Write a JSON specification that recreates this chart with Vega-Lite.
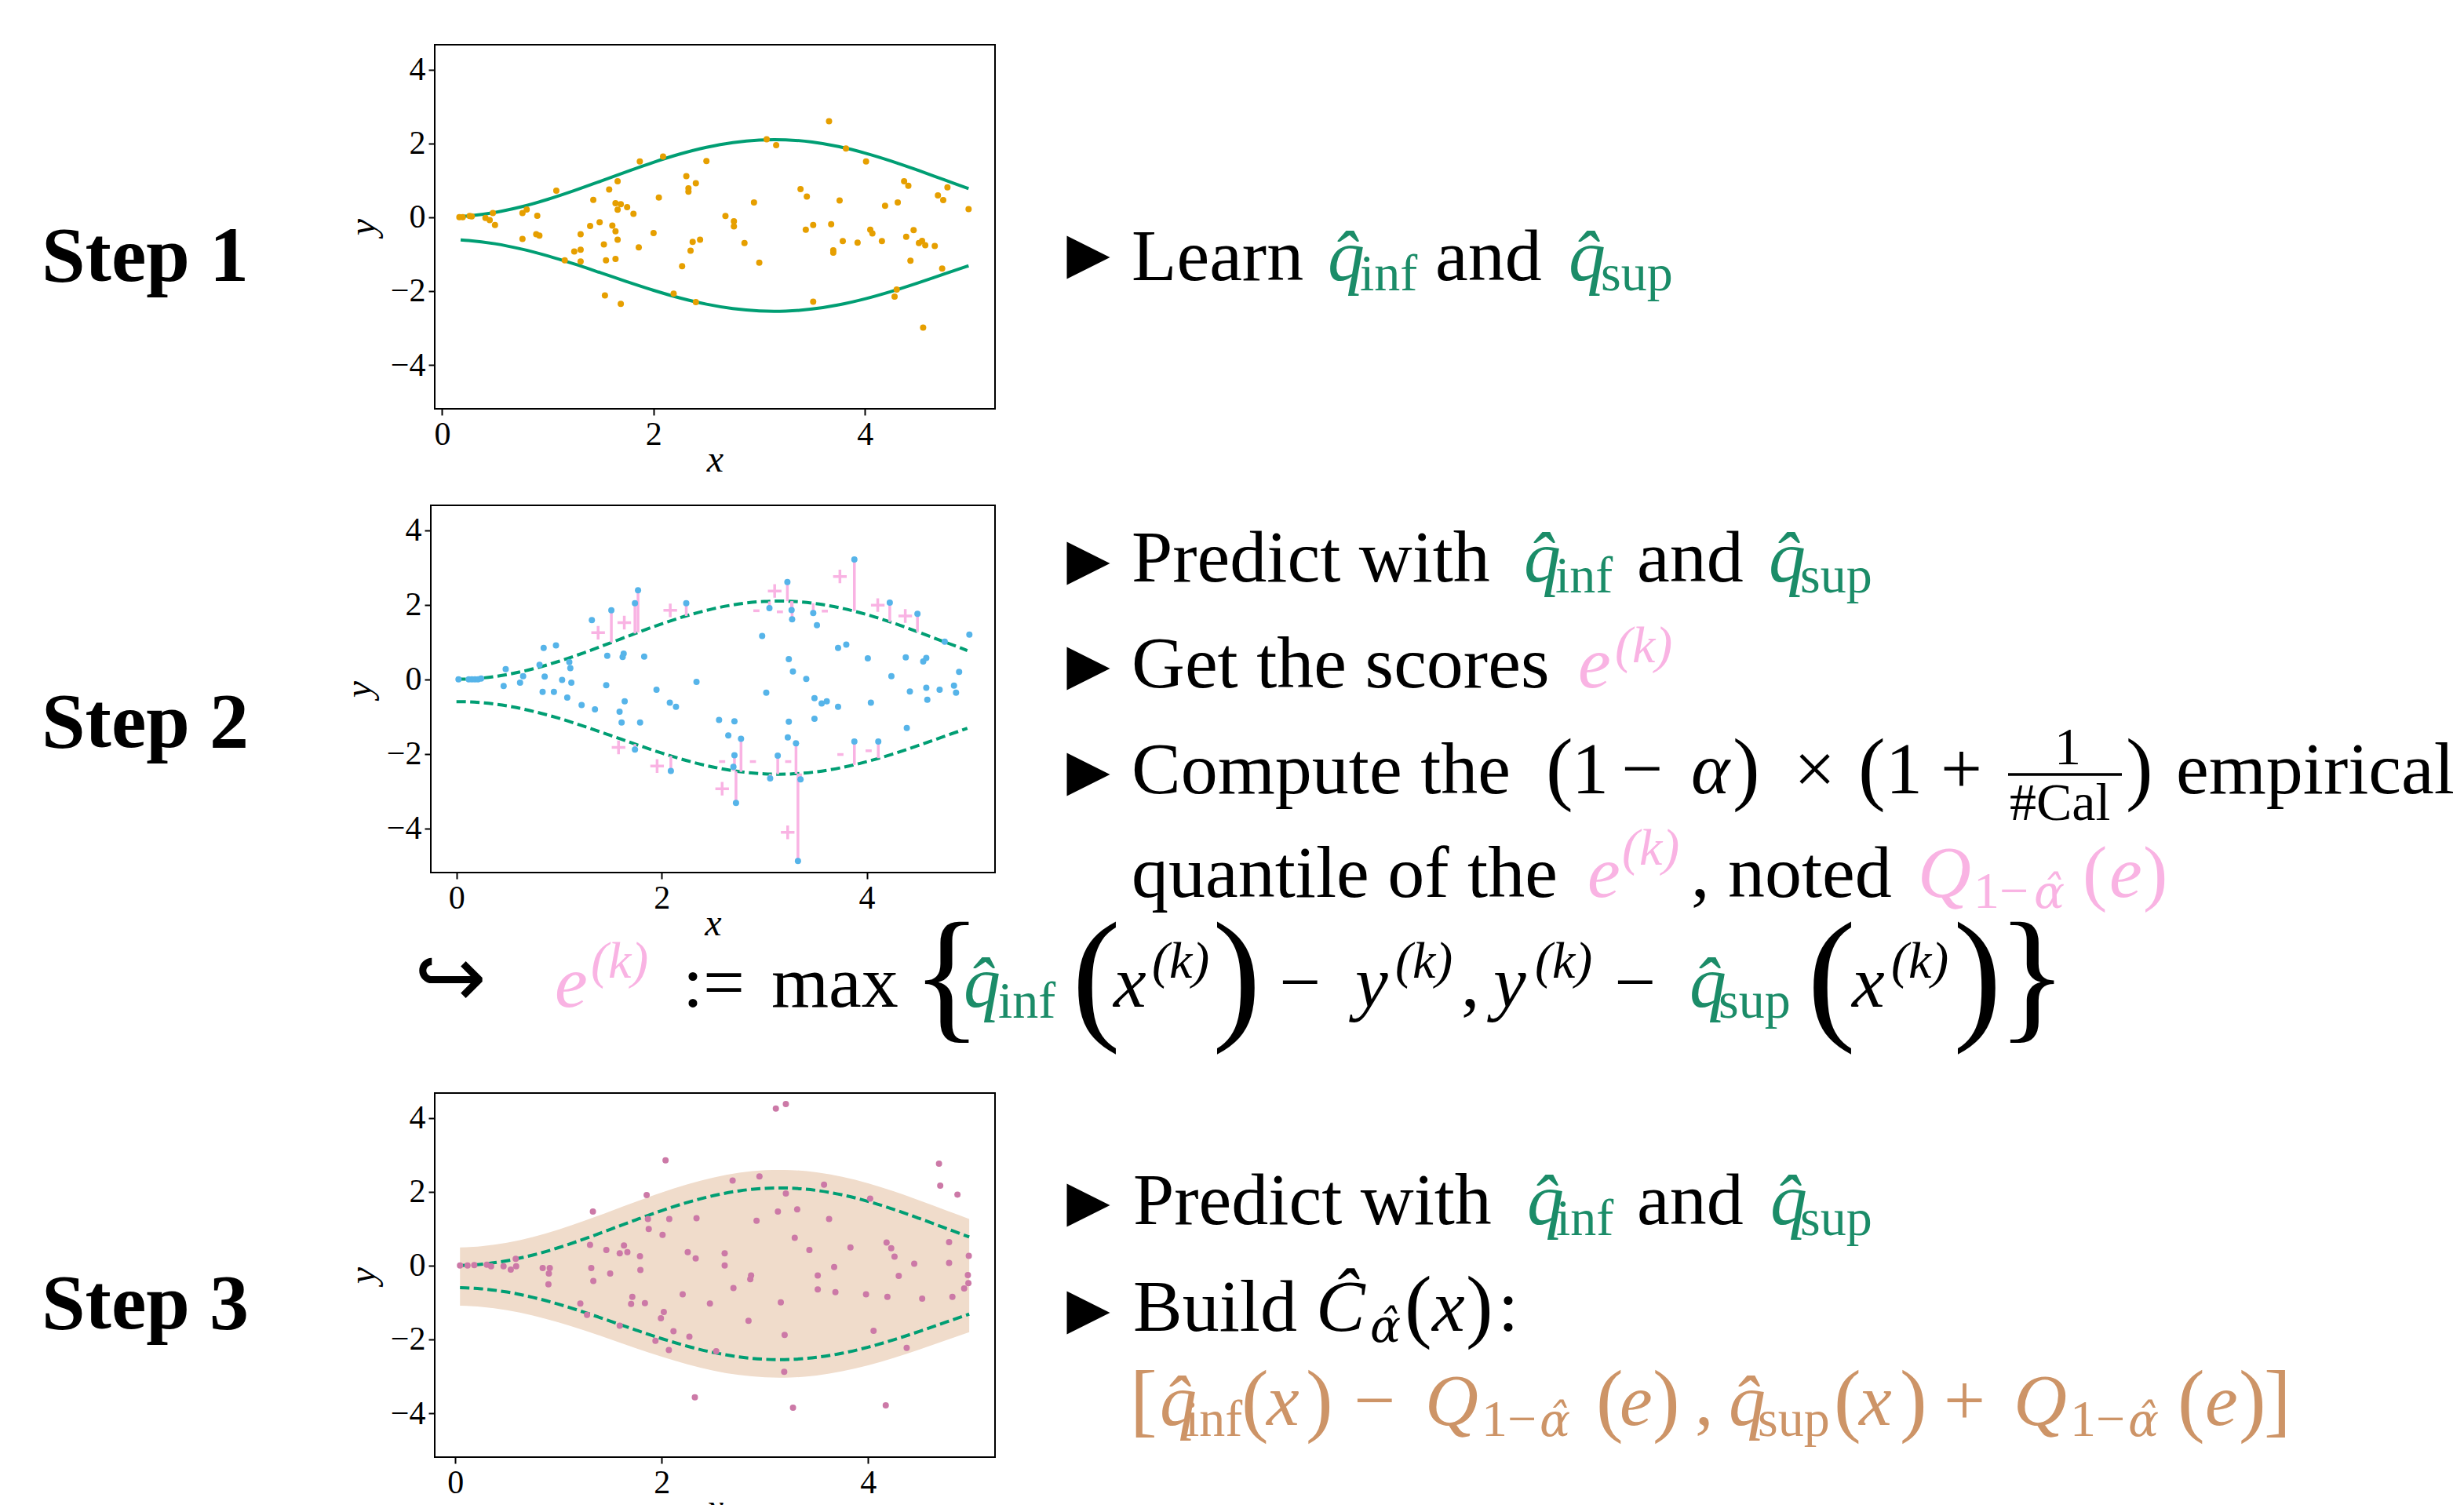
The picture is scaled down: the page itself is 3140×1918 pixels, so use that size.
{
"$schema": "https://vega.github.io/schema/vega-lite/v6.json",
"padding": {"left": 0, "top": 56, "right": 0, "bottom": 0},
"background": "white",
"bounds": "full",
"spacing": 0,
"config": {
  "view": {"stroke": null},
  "concat": {"spacing": 0},
  "axis": {"labelFont": "Liberation Serif", "labelFontSize": 42, "labelColor": "#000000", "tickColor": "#000000", "tickWidth": 2, "tickSize": 8, "labelPadding": 4, "domain": false, "grid": false, "titleFont": "Liberation Serif", "titleFontSize": 48, "titleFontStyle": "italic", "titleFontWeight": "normal", "titleColor": "#000000"},
  "axisX": {"titlePadding": -12},
  "axisY": {"titlePadding": 10}
},
"datasets": {
  "curve": [
    {"x": 0, "upper": 0, "lower": -0.6, "hi": 0.49, "lo": -1.09},
    {"x": 0.045, "upper": 0.001, "lower": -0.601, "hi": 0.491, "lo": -1.091},
    {"x": 0.175, "upper": 0.016, "lower": -0.615, "hi": 0.506, "lo": -1.105},
    {"x": 0.25, "upper": 0.033, "lower": -0.63, "hi": 0.523, "lo": -1.12},
    {"x": 0.5, "upper": 0.129, "lower": -0.719, "hi": 0.619, "lo": -1.209},
    {"x": 0.75, "upper": 0.282, "lower": -0.862, "hi": 0.772, "lo": -1.352},
    {"x": 1.0, "upper": 0.483, "lower": -1.048, "hi": 0.973, "lo": -1.538},
    {"x": 1.25, "upper": 0.719, "lower": -1.268, "hi": 1.209, "lo": -1.758},
    {"x": 1.5, "upper": 0.976, "lower": -1.506, "hi": 1.466, "lo": -1.996},
    {"x": 1.75, "upper": 1.237, "lower": -1.749, "hi": 1.727, "lo": -2.239},
    {"x": 2.0, "upper": 1.487, "lower": -1.981, "hi": 1.977, "lo": -2.471},
    {"x": 2.25, "upper": 1.71, "lower": -2.188, "hi": 2.2, "lo": -2.678},
    {"x": 2.5, "upper": 1.891, "lower": -2.356, "hi": 2.381, "lo": -2.846},
    {"x": 2.75, "upper": 2.021, "lower": -2.476, "hi": 2.511, "lo": -2.966},
    {"x": 3.0, "upper": 2.09, "lower": -2.54, "hi": 2.58, "lo": -3.03},
    {"x": 3.14, "upper": 2.1, "lower": -2.55, "hi": 2.59, "lo": -3.04},
    {"x": 3.25, "upper": 2.094, "lower": -2.544, "hi": 2.584, "lo": -3.034},
    {"x": 3.5, "upper": 2.033, "lower": -2.488, "hi": 2.523, "lo": -2.978},
    {"x": 3.75, "upper": 1.912, "lower": -2.375, "hi": 2.402, "lo": -2.865},
    {"x": 4.0, "upper": 1.736, "lower": -2.212, "hi": 2.226, "lo": -2.702},
    {"x": 4.25, "upper": 1.518, "lower": -2.01, "hi": 2.008, "lo": -2.5},
    {"x": 4.5, "upper": 1.271, "lower": -1.781, "hi": 1.761, "lo": -2.271},
    {"x": 4.75, "upper": 1.011, "lower": -1.538, "hi": 1.501, "lo": -2.028},
    {"x": 4.98, "upper": 0.772, "lower": -1.317, "hi": 1.262, "lo": -1.807},
    {"x": 5.0, "upper": 0.752, "lower": -1.299, "hi": 1.242, "lo": -1.789}
  ],
  "train": [
    {"x":0.163,"y":0},{"x":0.195,"y":0},{"x":0.26,"y":0.03},{"x":0.28,"y":0.02},{"x":0.41,"y":-0.02},{"x":0.45,"y":-0.08},{"x":0.48,"y":0.11},{"x":0.5,"y":-0.21},{"x":0.76,"y":0.11},{"x":0.8,"y":0.21},
    {"x":0.76,"y":-0.59},{"x":0.89,"y":-0.46},{"x":0.92,"y":-0.5},{"x":0.9,"y":0.04},{"x":1.08,"y":0.72},{"x":1.16,"y":-1.17},{"x":1.25,"y":-0.93},{"x":1.31,"y":-0.46},{"x":1.31,"y":-0.88},{"x":1.31,"y":-1.2},
    {"x":1.4,"y":-0.24},{"x":1.43,"y":0.47},{"x":1.49,"y":-0.14},{"x":1.53,"y":-0.74},{"x":1.54,"y":-2.12},{"x":1.55,"y":-1.17},{"x":1.58,"y":0.75},{"x":1.61,"y":-0.23},{"x":1.64,"y":-1.13},{"x":1.64,"y":-0.38},
    {"x":1.64,"y":0.38},{"x":1.66,"y":0.97},{"x":1.66,"y":-0.61},{"x":1.66,"y":0.2},{"x":1.69,"y":0.35},{"x":1.69,"y":-2.35},{"x":1.75,"y":0.27},{"x":1.81,"y":0.09},{"x":1.86,"y":-0.82},{"x":1.87,"y":1.51},
    {"x":2.0,"y":-0.43},{"x":2.05,"y":0.53},{"x":2.09,"y":1.64},{"x":2.19,"y":-2.07},{"x":2.27,"y":-1.33},{"x":2.31,"y":1.11},{"x":2.33,"y":0.78},{"x":2.33,"y":0.69},{"x":2.35,"y":-0.91},{"x":2.37,"y":-0.67},
    {"x":2.4,"y":0.92},{"x":2.4,"y":-2.3},{"x":2.44,"y":-0.61},{"x":2.5,"y":1.52},{"x":2.68,"y":0.03},{"x":2.76,"y":-0.11},{"x":2.76,"y":-0.25},{"x":2.86,"y":-0.7},{"x":2.95,"y":0.4},{"x":3.0,"y":-1.23},
    {"x":3.07,"y":2.11},{"x":3.16,"y":1.95},{"x":3.39,"y":0.76},{"x":3.44,"y":-0.34},{"x":3.45,"y":0.56},{"x":3.51,"y":-0.21},{"x":3.51,"y":-2.29},{"x":3.66,"y":2.6},{"x":3.68,"y":-0.19},{"x":3.7,"y":-0.9},
    {"x":3.7,"y":-0.96},{"x":3.76,"y":0.45},{"x":3.79,"y":-0.65},{"x":3.82,"y":1.86},{"x":3.93,"y":-0.69},{"x":4.01,"y":1.51},{"x":4.05,"y":-0.34},{"x":4.07,"y":-0.44},{"x":4.16,"y":-0.65},{"x":4.19,"y":0.31},
    {"x":4.28,"y":-2.15},{"x":4.3,"y":-1.96},{"x":4.31,"y":0.4},{"x":4.37,"y":0.97},{"x":4.39,"y":-0.53},{"x":4.41,"y":0.85},{"x":4.43,"y":-1.18},{"x":4.46,"y":-0.35},{"x":4.51,"y":-0.7},{"x":4.54,"y":-0.64},
    {"x":4.55,"y":-2.99},{"x":4.57,"y":-0.76},{"x":4.66,"y":-0.78},{"x":4.69,"y":0.59},{"x":4.73,"y":-1.39},{"x":4.74,"y":0.46},{"x":4.78,"y":0.81},{"x":4.98,"y":0.22}
  ],
  "calib": [
    {"x":0.02,"y":0},{"x":0.12,"y":0},{"x":0.15,"y":0},{"x":0.18,"y":0},{"x":0.21,"y":0},{"x":0.24,"y":0.02},{"x":0.46,"y":-0.18},{"x":0.48,"y":0.27},{"x":0.62,"y":-0.09},{"x":0.65,"y":0.08},
    {"x":0.81,"y":0.39},{"x":0.84,"y":-0.34},{"x":0.85,"y":0.84},{"x":0.86,"y":0.07},{"x":0.95,"y":-0.34},{"x":0.97,"y":0.91},{"x":1.03,"y":-0.02},{"x":1.08,"y":-0.49},{"x":1.1,"y":0.46},{"x":1.11,"y":0.3},
    {"x":1.12,"y":-0.09},{"x":1.22,"y":-0.69},{"x":1.32,"y":1.59},{"x":1.35,"y":-0.81},{"x":1.46,"y":-0.16},{"x":1.47,"y":0.63},{"x":1.51,"y":1.85},{"x":1.59,"y":-0.87},{"x":1.61,"y":-1.16},{"x":1.62,"y":0.6},
    {"x":1.63,"y":0.69},{"x":1.64,"y":-0.59},{"x":1.74,"y":2.04},{"x":1.74,"y":-1.89},{"x":1.77,"y":2.39},{"x":1.79,"y":-1.16},{"x":1.83,"y":0.61},{"x":1.95,"y":-0.28},{"x":2.08,"y":-0.63},{"x":2.09,"y":-2.46},
    {"x":2.14,"y":-0.74},{"x":2.24,"y":2.04},{"x":2.34,"y":-0.07},{"x":2.56,"y":-1.09},{"x":2.65,"y":-1.51},{"x":2.7,"y":-2.35},{"x":2.71,"y":-2.04},{"x":2.71,"y":-1.13},{"x":2.725,"y":-3.32},{"x":2.774,"y":-1.6},
    {"x":2.98,"y":1.16},{"x":3.02,"y":-0.36},{"x":3.051,"y":1.91},{"x":3.058,"y":-2.66},{"x":3.132,"y":-2.05},{"x":3.226,"y":2.61},{"x":3.23,"y":-1.56},{"x":3.24,"y":0.54},{"x":3.24,"y":-1.14},{"x":3.267,"y":1.86},
    {"x":3.272,"y":1.61},{"x":3.28,"y":0.21},{"x":3.31,"y":-1.72},{"x":3.329,"y":-4.88},{"x":3.354,"y":-2.69},{"x":3.41,"y":0.01},{"x":3.478,"y":1.78},{"x":3.49,"y":-1.06},{"x":3.49,"y":-0.51},{"x":3.514,"y":1.45},
    {"x":3.56,"y":-0.65},{"x":3.61,"y":-0.59},{"x":3.72,"y":0.84},{"x":3.72,"y":-0.74},{"x":3.8,"y":0.93},{"x":3.879,"y":3.216},{"x":3.879,"y":-1.67},{"x":4.01,"y":0.56},{"x":4.04,"y":-0.63},{"x":4.112,"y":-1.67},
    {"x":4.224,"y":2.06},{"x":4.24,"y":0.08},{"x":4.38,"y":0.59},{"x":4.39,"y":-1.31},{"x":4.42,"y":-0.33},{"x":4.494,"y":1.755},{"x":4.55,"y":0.48},{"x":4.58,"y":0.57},{"x":4.58,"y":-0.23},{"x":4.59,"y":-0.55},
    {"x":4.71,"y":-0.28},{"x":4.76,"y":1.01},{"x":4.85,"y":-0.17},{"x":4.87,"y":-0.36},{"x":4.9,"y":0.2},{"x":5.0,"y":1.2}
  ],
  "scores": [
    {"x":1.51,"y":1.85,"y2":0.99},{"x":1.74,"y":2.04,"y2":1.23},{"x":1.77,"y":2.39,"y2":1.26},{"x":2.24,"y":2.04,"y2":1.7},{"x":1.74,"y":-1.89,"y2":-1.74},
    {"x":2.09,"y":-2.46,"y2":-2.06},{"x":2.71,"y":-2.04,"y2":-2.46},{"x":2.7,"y":-2.35,"y2":-2.46},{"x":2.725,"y":-3.32,"y2":-2.47},{"x":2.774,"y":-1.6,"y2":-2.485},
    {"x":3.058,"y":-2.66,"y2":-2.546},{"x":3.132,"y":-2.05,"y2":-2.55},{"x":3.31,"y":-1.72,"y2":-2.536},{"x":3.329,"y":-4.88,"y2":-2.533},{"x":3.354,"y":-2.69,"y2":-2.53},
    {"x":3.879,"y":3.216,"y2":1.83},{"x":3.226,"y":2.61,"y2":2.095},{"x":3.051,"y":1.91,"y2":2.09},{"x":3.267,"y":1.86,"y2":2.094},{"x":3.272,"y":1.61,"y2":2.094},
    {"x":3.478,"y":1.78,"y2":2.042},{"x":4.224,"y":2.06,"y2":1.54},{"x":4.494,"y":1.755,"y2":1.27},{"x":3.879,"y":-1.67,"y2":-2.3},{"x":4.112,"y":-1.67,"y2":-2.12}
  ],
  "signs": [
    {"x":1.381,"y":1.25,"sign":"+"},{"x":1.636,"y":1.52,"sign":"+"},{"x":2.084,"y":1.85,"sign":"+"},{"x":1.58,"y":-1.83,"sign":"+"},{"x":1.956,"y":-2.33,"sign":"+"},
    {"x":2.59,"y":-2.21,"sign":"-"},{"x":2.59,"y":-2.94,"sign":"+"},{"x":2.89,"y":-2.21,"sign":"-"},{"x":3.234,"y":-2.21,"sign":"-"},{"x":3.229,"y":-4.11,"sign":"+"},
    {"x":3.738,"y":2.76,"sign":"+"},{"x":3.102,"y":2.37,"sign":"+"},{"x":2.924,"y":1.84,"sign":"-"},{"x":3.153,"y":1.81,"sign":"-"},{"x":3.591,"y":1.83,"sign":"-"},
    {"x":4.107,"y":1.99,"sign":"+"},{"x":4.375,"y":1.7,"sign":"+"},{"x":3.743,"y":-2.02,"sign":"-"},{"x":4.018,"y":-1.92,"sign":"-"}
  ],
  "test": [
    {"x":0.045,"y":0},{"x":0.118,"y":0},{"x":0.183,"y":0.01},{"x":0.305,"y":0.02},{"x":0.346,"y":-0.02},{"x":0.467,"y":-0.02},{"x":0.537,"y":-0.11},{"x":0.585,"y":0.18},{"x":0.589,"y":-0.02},{"x":0.846,"y":-0.07},
    {"x":0.915,"y":-0.07},{"x":0.906,"y":-0.22},{"x":0.902,"y":-0.51},{"x":1.211,"y":-1.03},{"x":1.276,"y":-1.34},{"x":1.305,"y":0.56},{"x":1.317,"y":-0.07},{"x":1.333,"y":1.46},{"x":1.337,"y":-0.42},{"x":1.463,"y":0.42},
    {"x":1.5,"y":-0.22},{"x":1.593,"y":0.33},{"x":1.593,"y":-1.63},{"x":1.634,"y":0.54},{"x":1.667,"y":0.36},{"x":1.703,"y":-1.04},{"x":1.715,"y":-0.85},{"x":1.789,"y":0.25},{"x":1.793,"y":-0.12},{"x":1.837,"y":-1.02},
    {"x":1.854,"y":1.91},{"x":1.866,"y":1.26},{"x":1.874,"y":0.99},{"x":1.939,"y":-2.04},{"x":1.992,"y":-1.43},{"x":2.008,"y":0.83},{"x":2.02,"y":-1.26},{"x":2.037,"y":2.85},{"x":2.069,"y":-2.29},{"x":2.073,"y":1.26},
    {"x":2.114,"y":-1.78},{"x":2.203,"y":-0.78},{"x":2.252,"y":0.36},{"x":2.268,"y":-1.93},{"x":2.321,"y":-3.57},{"x":2.329,"y":0.19},{"x":2.337,"y":1.28},{"x":2.467,"y":-1.03},{"x":2.528,"y":-2.32},{"x":2.61,"y":0.33},
    {"x":2.61,"y":0},{"x":2.687,"y":2.3},{"x":2.695,"y":-0.61},{"x":2.841,"y":-1.5},{"x":2.858,"y":-0.37},{"x":2.866,"y":-0.27},{"x":2.919,"y":1.21},{"x":2.947,"y":2.41},{"x":3.106,"y":4.25},{"x":3.126,"y":1.46},
    {"x":3.154,"y":-1.0},{"x":3.187,"y":-2.88},{"x":3.191,"y":-1.88},{"x":3.203,"y":4.37},{"x":3.203,"y":1.95},{"x":3.272,"y":-3.85},{"x":3.289,"y":0.75},{"x":3.313,"y":1.52},{"x":3.431,"y":0.42},{"x":3.512,"y":-0.27},
    {"x":3.512,"y":-0.65},{"x":3.573,"y":2.19},{"x":3.622,"y":1.26},{"x":3.671,"y":-0.04},{"x":3.683,"y":-0.72},{"x":3.829,"y":0.49},{"x":3.98,"y":-0.78},{"x":4.02,"y":1.81},{"x":4.053,"y":-1.77},{"x":4.171,"y":-3.79},
    {"x":4.179,"y":0.62},{"x":4.187,"y":-0.85},{"x":4.224,"y":0.47},{"x":4.256,"y":0.24},{"x":4.297,"y":-0.28},{"x":4.374,"y":-2.23},{"x":4.447,"y":0.05},{"x":4.524,"y":-0.9},{"x":4.687,"y":2.76},{"x":4.699,"y":2.16},
    {"x":4.785,"y":0.63},{"x":4.785,"y":0.07},{"x":4.817,"y":-0.85},{"x":4.866,"y":1.92},{"x":4.931,"y":-0.62},{"x":4.967,"y":-0.26},{"x":4.972,"y":-0.48},{"x":4.976,"y":0.26}
  ],
  "notes": [
    {"panel":"L1","kind":"step","t":"Step 1","x":53,"y":357,"ink":"text"},
    {"panel":"L2","kind":"step","t":"Step 2","x":53,"y":950,"ink":"text"},
    {"panel":"L3","kind":"step","t":"Step 3","x":53,"y":1690,"ink":"text"},

    {"panel":"T1","kind":"bullet","x":1387,"y":327},
    {"panel":"T1","kind":"main","t":"Learn","x":1442,"y":356,"ink":"text"},
    {"panel":"T1","kind":"var","t":"q\u0302","x":1692,"y":356,"ink":"quantile"},
    {"panel":"T1","kind":"index","t":"inf","x":1733,"y":369,"ink":"quantile"},
    {"panel":"T1","kind":"main","t":"and","x":1829,"y":356,"ink":"text"},
    {"panel":"T1","kind":"var","t":"q\u0302","x":1999,"y":356,"ink":"quantile"},
    {"panel":"T1","kind":"index","t":"sup","x":2040,"y":369,"ink":"quantile"},

    {"panel":"T2","kind":"bullet","x":1387,"y":716},
    {"panel":"T2","kind":"bullet","x":1387,"y":850},
    {"panel":"T2","kind":"bullet","x":1387,"y":985},
    {"panel":"T2","kind":"main","t":"Predict with","x":1442,"y":739,"ink":"text"},
    {"panel":"T2","kind":"var","t":"q\u0302","x":1942,"y":739,"ink":"quantile"},
    {"panel":"T2","kind":"index","t":"inf","x":1982,"y":753,"ink":"quantile"},
    {"panel":"T2","kind":"main","t":"and","x":2086,"y":739,"ink":"text"},
    {"panel":"T2","kind":"var","t":"q\u0302","x":2254,"y":739,"ink":"quantile"},
    {"panel":"T2","kind":"index","t":"sup","x":2294,"y":753,"ink":"quantile"},
    {"panel":"T2","kind":"main","t":"Get the scores","x":1442,"y":874,"ink":"text"},
    {"panel":"T2","kind":"var","t":"e","x":2011,"y":874,"ink":"score"},
    {"panel":"T2","kind":"indexvar","t":"(k)","x":2058,"y":842,"ink":"score"},
    {"panel":"T2","kind":"main","t":"Compute the","x":1442,"y":1009,"ink":"text"},
    {"panel":"T2","kind":"delim","t":"(","x":1970,"y":1011,"ink":"text"},
    {"panel":"T2","kind":"main","t":"1","x":2003,"y":1009,"ink":"text"},
    {"panel":"T2","kind":"main","t":"\u2212","x":2066,"y":1009,"ink":"text"},
    {"panel":"T2","kind":"var","t":"\u03b1","x":2155,"y":1009,"ink":"text"},
    {"panel":"T2","kind":"delim","t":")","x":2208,"y":1011,"ink":"text"},
    {"panel":"T2","kind":"main","t":"\u00d7","x":2286,"y":1009,"ink":"text"},
    {"panel":"T2","kind":"delim","t":"(","x":2368,"y":1011,"ink":"text"},
    {"panel":"T2","kind":"main","t":"1","x":2403,"y":1009,"ink":"text"},
    {"panel":"T2","kind":"main","t":"+","x":2473,"y":1009,"ink":"text"},
    {"panel":"T2","kind":"frac","t":"1","x":2618,"y":972,"ink":"text"},
    {"panel":"T2","kind":"frac","t":"#Cal","x":2561,"y":1043,"ink":"text"},
    {"panel":"T2","kind":"bar","x":2559,"x2":2704,"y":985},
    {"panel":"T2","kind":"delim","t":")","x":2709,"y":1011,"ink":"text"},
    {"panel":"T2","kind":"main","t":"empirical","x":2773,"y":1009,"ink":"text"},
    {"panel":"T2","kind":"main","t":"quantile of the","x":1442,"y":1141,"ink":"text"},
    {"panel":"T2","kind":"var","t":"e","x":2023,"y":1141,"ink":"score"},
    {"panel":"T2","kind":"indexvar","t":"(k)","x":2067,"y":1100,"ink":"score"},
    {"panel":"T2","kind":"main","t":", noted","x":2155,"y":1141,"ink":"text"},
    {"panel":"T2","kind":"var","t":"Q","x":2444,"y":1141,"ink":"score"},
    {"panel":"T2","kind":"index","t":"1\u2212","x":2515,"y":1155,"ink":"score"},
    {"panel":"T2","kind":"hatvar","t":"\u03b1\u0302","x":2592,"y":1155,"ink":"score"},
    {"panel":"T2","kind":"main","t":"(","x":2654,"y":1141,"ink":"score"},
    {"panel":"T2","kind":"var","t":"e","x":2688,"y":1141,"ink":"score"},
    {"panel":"T2","kind":"main","t":")","x":2731,"y":1141,"ink":"score"},

    {"panel":"T2","kind":"arrow","t":"\u21aa","x":528,"y":1281,"ink":"text"},
    {"panel":"T2","kind":"var","t":"e","x":707,"y":1281,"ink":"score"},
    {"panel":"T2","kind":"indexvar","t":"(k)","x":753,"y":1244,"ink":"score"},
    {"panel":"T2","kind":"main","t":":=","x":870,"y":1281,"ink":"text"},
    {"panel":"T2","kind":"main","t":"max","x":983,"y":1281,"ink":"text"},
    {"panel":"T2","kind":"big","t":"{","x":1162,"y":1302,"ink":"text"},
    {"panel":"T2","kind":"var","t":"q\u0302","x":1228,"y":1281,"ink":"quantile"},
    {"panel":"T2","kind":"index","t":"inf","x":1272,"y":1295,"ink":"quantile"},
    {"panel":"T2","kind":"big","t":"(","x":1366,"y":1302,"ink":"text"},
    {"panel":"T2","kind":"var","t":"x","x":1419,"y":1281,"ink":"text"},
    {"panel":"T2","kind":"indexvar","t":"(k)","x":1468,"y":1244,"ink":"text"},
    {"panel":"T2","kind":"big","t":")","x":1545,"y":1302,"ink":"text"},
    {"panel":"T2","kind":"main","t":"\u2212","x":1630,"y":1281,"ink":"text"},
    {"panel":"T2","kind":"var","t":"y","x":1727,"y":1281,"ink":"text"},
    {"panel":"T2","kind":"indexvar","t":"(k)","x":1778,"y":1244,"ink":"text"},
    {"panel":"T2","kind":"main","t":",","x":1862,"y":1281,"ink":"text"},
    {"panel":"T2","kind":"var","t":"y","x":1903,"y":1281,"ink":"text"},
    {"panel":"T2","kind":"indexvar","t":"(k)","x":1956,"y":1244,"ink":"text"},
    {"panel":"T2","kind":"main","t":"\u2212","x":2057,"y":1281,"ink":"text"},
    {"panel":"T2","kind":"var","t":"q\u0302","x":2153,"y":1281,"ink":"quantile"},
    {"panel":"T2","kind":"index","t":"sup","x":2190,"y":1295,"ink":"quantile"},
    {"panel":"T2","kind":"big","t":"(","x":2303,"y":1302,"ink":"text"},
    {"panel":"T2","kind":"var","t":"x","x":2360,"y":1281,"ink":"text"},
    {"panel":"T2","kind":"indexvar","t":"(k)","x":2410,"y":1244,"ink":"text"},
    {"panel":"T2","kind":"big","t":")","x":2489,"y":1302,"ink":"text"},
    {"panel":"T2","kind":"big","t":"}","x":2545,"y":1302,"ink":"text"},

    {"panel":"T3","kind":"bullet","x":1387,"y":1533},
    {"panel":"T3","kind":"bullet","x":1387,"y":1670},
    {"panel":"T3","kind":"main","t":"Predict with","x":1444,"y":1557,"ink":"text"},
    {"panel":"T3","kind":"var","t":"q\u0302","x":1946,"y":1557,"ink":"quantile"},
    {"panel":"T3","kind":"index","t":"inf","x":1983,"y":1571,"ink":"quantile"},
    {"panel":"T3","kind":"main","t":"and","x":2086,"y":1557,"ink":"text"},
    {"panel":"T3","kind":"var","t":"q\u0302","x":2256,"y":1557,"ink":"quantile"},
    {"panel":"T3","kind":"index","t":"sup","x":2294,"y":1571,"ink":"quantile"},
    {"panel":"T3","kind":"main","t":"Build","x":1444,"y":1693,"ink":"text"},
    {"panel":"T3","kind":"var","t":"\u0108","x":1677,"y":1693,"ink":"text"},
    {"panel":"T3","kind":"hatvar","t":"\u03b1\u0302","x":1746,"y":1707,"ink":"text"},
    {"panel":"T3","kind":"delim","t":"(","x":1790,"y":1695,"ink":"text"},
    {"panel":"T3","kind":"var","t":"x","x":1825,"y":1693,"ink":"text"},
    {"panel":"T3","kind":"delim","t":")","x":1868,"y":1695,"ink":"text"},
    {"panel":"T3","kind":"main","t":":","x":1909,"y":1693,"ink":"text"},
    {"panel":"T3","kind":"delim","t":"[","x":1440,"y":1815,"ink":"interval"},
    {"panel":"T3","kind":"var","t":"q\u0302","x":1478,"y":1813,"ink":"interval"},
    {"panel":"T3","kind":"index","t":"inf","x":1510,"y":1827,"ink":"interval"},
    {"panel":"T3","kind":"delim","t":"(","x":1582,"y":1815,"ink":"interval"},
    {"panel":"T3","kind":"var","t":"x","x":1614,"y":1813,"ink":"interval"},
    {"panel":"T3","kind":"delim","t":")","x":1664,"y":1815,"ink":"interval"},
    {"panel":"T3","kind":"main","t":"\u2212","x":1725,"y":1813,"ink":"interval"},
    {"panel":"T3","kind":"var","t":"Q","x":1816,"y":1813,"ink":"interval"},
    {"panel":"T3","kind":"index","t":"1\u2212","x":1888,"y":1827,"ink":"interval"},
    {"panel":"T3","kind":"hatvar","t":"\u03b1\u0302","x":1962,"y":1827,"ink":"interval"},
    {"panel":"T3","kind":"delim","t":"(","x":2034,"y":1815,"ink":"interval"},
    {"panel":"T3","kind":"var","t":"e","x":2064,"y":1813,"ink":"interval"},
    {"panel":"T3","kind":"delim","t":")","x":2106,"y":1815,"ink":"interval"},
    {"panel":"T3","kind":"main","t":",","x":2160,"y":1813,"ink":"interval"},
    {"panel":"T3","kind":"var","t":"q\u0302","x":2203,"y":1813,"ink":"interval"},
    {"panel":"T3","kind":"index","t":"sup","x":2240,"y":1827,"ink":"interval"},
    {"panel":"T3","kind":"delim","t":"(","x":2337,"y":1815,"ink":"interval"},
    {"panel":"T3","kind":"var","t":"x","x":2369,"y":1813,"ink":"interval"},
    {"panel":"T3","kind":"delim","t":")","x":2421,"y":1815,"ink":"interval"},
    {"panel":"T3","kind":"main","t":"+","x":2477,"y":1813,"ink":"interval"},
    {"panel":"T3","kind":"var","t":"Q","x":2566,"y":1813,"ink":"interval"},
    {"panel":"T3","kind":"index","t":"1\u2212","x":2638,"y":1827,"ink":"interval"},
    {"panel":"T3","kind":"hatvar","t":"\u03b1\u0302","x":2712,"y":1827,"ink":"interval"},
    {"panel":"T3","kind":"delim","t":"(","x":2775,"y":1815,"ink":"interval"},
    {"panel":"T3","kind":"var","t":"e","x":2810,"y":1813,"ink":"interval"},
    {"panel":"T3","kind":"delim","t":")","x":2853,"y":1815,"ink":"interval"},
    {"panel":"T3","kind":"delim","t":"]","x":2885,"y":1815,"ink":"interval"}
  ]
},
"vconcat": [
  {
    "hconcat": [
      {
        "width": 554, "height": 586,
        "data": {"name": "notes"},
        "transform": [{"filter": "datum.panel === 'L1'"}],
        "mark": {"type": "text", "font": "Liberation Serif", "fontWeight": "bold", "fontSize": 100, "align": "left", "baseline": "alphabetic", "color": "#000000"},
        "encoding": {
          "x": {"field": "x", "type": "quantitative", "scale": {"domain": [0, 554], "nice": false, "zero": false}, "axis": null},
          "y": {"field": "y", "type": "quantitative", "scale": {"domain": [56, 642], "reverse": true, "nice": false, "zero": false}, "axis": null},
          "text": {"field": "t"}
        }
      },
      {
        "width": 714, "height": 464,
        "view": {"stroke": "#000000", "strokeWidth": 2},
        "encoding": {
          "x": {"field": "x", "type": "quantitative", "title": "x", "scale": {"domain": [-0.07, 5.23], "nice": false, "zero": false}, "axis": {"values": [0, 2, 4]}}
        },
        "layer": [
          {"data": {"name": "curve"}, "transform": [{"filter": "datum.x >= 0.17 && datum.x <= 4.99"}], "mark": {"type": "line", "color": "#009e73", "strokeWidth": 4, "interpolate": "monotone"},
           "encoding": {"y": {"field": "upper", "type": "quantitative", "title": "y", "scale": {"domain": [-5.19, 4.67], "nice": false, "zero": false}, "axis": {"values": [-4, -2, 0, 2, 4]}}}},
          {"data": {"name": "curve"}, "transform": [{"filter": "datum.x >= 0.17 && datum.x <= 4.99"}], "mark": {"type": "line", "color": "#009e73", "strokeWidth": 4, "interpolate": "monotone"},
           "encoding": {"y": {"field": "lower", "type": "quantitative", "title": "y", "scale": {"domain": [-5.19, 4.67], "nice": false, "zero": false}, "axis": {"values": [-4, -2, 0, 2, 4]}}}},
          {"data": {"name": "train"}, "mark": {"type": "circle", "color": "#e69f00", "size": 64, "opacity": 1},
           "encoding": {"y": {"field": "y", "type": "quantitative", "title": "y", "scale": {"domain": [-5.19, 4.67], "nice": false, "zero": false}, "axis": {"values": [-4, -2, 0, 2, 4]}}}}
        ]
      },
      {
        "width": 1872, "height": 586,
        "data": {"name": "notes"},
        "transform": [{"filter": "datum.panel === 'T1'"}],
        "encoding": {
          "x": {"field": "x", "type": "quantitative", "scale": {"domain": [1268, 3140], "nice": false, "zero": false}, "axis": null},
          "y": {"field": "y", "type": "quantitative", "scale": {"domain": [56, 642], "reverse": true, "nice": false, "zero": false}, "axis": null}
        },
        "layer": [
          {"transform": [{"filter": "datum.kind === 'bullet'"}], "mark": {"type": "point", "shape": "M-1,-1L1,0L-1,1Z", "filled": true, "color": "#000000", "size": 3025, "opacity": 1}},
          {"transform": [{"filter": "datum.kind === 'main'"}], "mark": {"type": "text", "font": "Liberation Serif", "fontSize": 94, "align": "left", "baseline": "alphabetic"},
           "encoding": {"text": {"field": "t"}, "color": {"field": "ink", "type": "nominal", "scale": {"domain": ["text", "quantile", "score", "interval"], "range": ["#000000", "#1b8c68", "#f9b3e3", "#cd9467"]}, "legend": null}}},
          {"transform": [{"filter": "datum.kind === 'var'"}], "mark": {"type": "text", "font": "Liberation Serif", "fontStyle": "italic", "fontSize": 94, "align": "left", "baseline": "alphabetic"},
           "encoding": {"text": {"field": "t"}, "color": {"field": "ink", "type": "nominal", "scale": {"domain": ["text", "quantile", "score", "interval"], "range": ["#000000", "#1b8c68", "#f9b3e3", "#cd9467"]}, "legend": null}}},
          {"transform": [{"filter": "datum.kind === 'index'"}], "mark": {"type": "text", "font": "Liberation Serif", "fontSize": 66, "align": "left", "baseline": "alphabetic"},
           "encoding": {"text": {"field": "t"}, "color": {"field": "ink", "type": "nominal", "scale": {"domain": ["text", "quantile", "score", "interval"], "range": ["#000000", "#1b8c68", "#f9b3e3", "#cd9467"]}, "legend": null}}}
        ]
      }
    ],
    "spacing": 0, "bounds": "flush"
  },
  {
    "hconcat": [
      {
        "width": 549, "height": 748,
        "data": {"name": "notes"},
        "transform": [{"filter": "datum.panel === 'L2'"}],
        "mark": {"type": "text", "font": "Liberation Serif", "fontWeight": "bold", "fontSize": 100, "align": "left", "baseline": "alphabetic", "color": "#000000"},
        "encoding": {
          "x": {"field": "x", "type": "quantitative", "scale": {"domain": [0, 549], "nice": false, "zero": false}, "axis": null},
          "y": {"field": "y", "type": "quantitative", "scale": {"domain": [642, 1390], "reverse": true, "nice": false, "zero": false}, "axis": null},
          "text": {"field": "t"}
        }
      },
      {
        "width": 719, "height": 468,
        "view": {"stroke": "#000000", "strokeWidth": 2},
        "encoding": {
          "x": {"field": "x", "type": "quantitative", "title": "x", "scale": {"domain": [-0.25, 5.25], "nice": false, "zero": false}, "axis": {"values": [0, 2, 4]}}
        },
        "layer": [
          {"data": {"name": "curve"}, "transform": [{"filter": "datum.x <= 4.99"}], "mark": {"type": "line", "color": "#009e73", "strokeWidth": 4, "strokeDash": [12, 5.5], "interpolate": "monotone"},
           "encoding": {"y": {"field": "upper", "type": "quantitative", "title": "y", "scale": {"domain": [-5.19, 4.67], "nice": false, "zero": false}, "axis": {"values": [-4, -2, 0, 2, 4]}}}},
          {"data": {"name": "curve"}, "transform": [{"filter": "datum.x <= 4.99"}], "mark": {"type": "line", "color": "#009e73", "strokeWidth": 4, "strokeDash": [12, 5.5], "interpolate": "monotone"},
           "encoding": {"y": {"field": "lower", "type": "quantitative", "title": "y", "scale": {"domain": [-5.19, 4.67], "nice": false, "zero": false}, "axis": {"values": [-4, -2, 0, 2, 4]}}}},
          {"data": {"name": "scores"}, "mark": {"type": "rule", "color": "#f9b3e3", "strokeWidth": 3.5},
           "encoding": {"y": {"field": "y", "type": "quantitative", "title": "y", "scale": {"domain": [-5.19, 4.67], "nice": false, "zero": false}, "axis": {"values": [-4, -2, 0, 2, 4]}}, "y2": {"field": "y2"}}},
          {"data": {"name": "signs"}, "mark": {"type": "point", "filled": false, "color": "#f9b3e3", "strokeWidth": 3.5, "size": 300, "opacity": 1},
           "encoding": {"y": {"field": "y", "type": "quantitative", "title": "y", "scale": {"domain": [-5.19, 4.67], "nice": false, "zero": false}, "axis": {"values": [-4, -2, 0, 2, 4]}},
                        "shape": {"field": "sign", "type": "nominal", "scale": {"domain": ["+", "-"], "range": ["M-1,0L1,0M0,-1L0,1", "M-0.45,0L0.45,0"]}, "legend": null}}},
          {"data": {"name": "calib"}, "mark": {"type": "circle", "color": "#56b4e9", "size": 64, "opacity": 1},
           "encoding": {"y": {"field": "y", "type": "quantitative", "title": "y", "scale": {"domain": [-5.19, 4.67], "nice": false, "zero": false}, "axis": {"values": [-4, -2, 0, 2, 4]}}}}
        ]
      },
      {
        "width": 1872, "height": 748,
        "data": {"name": "notes"},
        "transform": [{"filter": "datum.panel === 'T2'"}],
        "encoding": {
          "x": {"field": "x", "type": "quantitative", "scale": {"domain": [1268, 3140], "nice": false, "zero": false}, "axis": null},
          "y": {"field": "y", "type": "quantitative", "scale": {"domain": [642, 1390], "reverse": true, "nice": false, "zero": false}, "axis": null}
        },
        "layer": [
          {"transform": [{"filter": "datum.kind === 'bullet'"}], "mark": {"type": "point", "shape": "M-1,-1L1,0L-1,1Z", "filled": true, "color": "#000000", "size": 3025, "opacity": 1}},
          {"transform": [{"filter": "datum.kind === 'bar'"}], "mark": {"type": "rule", "color": "#000000", "strokeWidth": 3.5}, "encoding": {"x2": {"field": "x2"}}},
          {"transform": [{"filter": "datum.kind === 'main'"}], "mark": {"type": "text", "font": "Liberation Serif", "fontSize": 94, "align": "left", "baseline": "alphabetic"},
           "encoding": {"text": {"field": "t"}, "color": {"field": "ink", "type": "nominal", "scale": {"domain": ["text", "quantile", "score", "interval"], "range": ["#000000", "#1b8c68", "#f9b3e3", "#cd9467"]}, "legend": null}}},
          {"transform": [{"filter": "datum.kind === 'var'"}], "mark": {"type": "text", "font": "Liberation Serif", "fontStyle": "italic", "fontSize": 94, "align": "left", "baseline": "alphabetic"},
           "encoding": {"text": {"field": "t"}, "color": {"field": "ink", "type": "nominal", "scale": {"domain": ["text", "quantile", "score", "interval"], "range": ["#000000", "#1b8c68", "#f9b3e3", "#cd9467"]}, "legend": null}}},
          {"transform": [{"filter": "datum.kind === 'index'"}], "mark": {"type": "text", "font": "Liberation Serif", "fontSize": 66, "align": "left", "baseline": "alphabetic"},
           "encoding": {"text": {"field": "t"}, "color": {"field": "ink", "type": "nominal", "scale": {"domain": ["text", "quantile", "score", "interval"], "range": ["#000000", "#1b8c68", "#f9b3e3", "#cd9467"]}, "legend": null}}},
          {"transform": [{"filter": "datum.kind === 'indexvar'"}], "mark": {"type": "text", "font": "Liberation Serif", "fontStyle": "italic", "fontSize": 66, "align": "left", "baseline": "alphabetic"},
           "encoding": {"text": {"field": "t"}, "color": {"field": "ink", "type": "nominal", "scale": {"domain": ["text", "quantile", "score", "interval"], "range": ["#000000", "#1b8c68", "#f9b3e3", "#cd9467"]}, "legend": null}}},
          {"transform": [{"filter": "datum.kind === 'hatvar'"}], "mark": {"type": "text", "font": "DejaVu Serif", "fontStyle": "italic", "fontSize": 58, "align": "left", "baseline": "alphabetic"},
           "encoding": {"text": {"field": "t"}, "color": {"field": "ink", "type": "nominal", "scale": {"domain": ["text", "quantile", "score", "interval"], "range": ["#000000", "#1b8c68", "#f9b3e3", "#cd9467"]}, "legend": null}}},
          {"transform": [{"filter": "datum.kind === 'frac'"}], "mark": {"type": "text", "font": "Liberation Serif", "fontSize": 68, "align": "left", "baseline": "alphabetic", "color": "#000000"},
           "encoding": {"text": {"field": "t"}}},
          {"transform": [{"filter": "datum.kind === 'delim'"}], "mark": {"type": "text", "font": "Liberation Serif", "fontSize": 104, "align": "left", "baseline": "alphabetic", "color": "#000000"},
           "encoding": {"text": {"field": "t"}}},
          {"transform": [{"filter": "datum.kind === 'big'"}], "mark": {"type": "text", "font": "Liberation Serif", "fontSize": 186, "align": "left", "baseline": "alphabetic", "color": "#000000"},
           "encoding": {"text": {"field": "t"}}},
          {"transform": [{"filter": "datum.kind === 'arrow'"}], "mark": {"type": "text", "font": "DejaVu Sans", "fontSize": 110, "align": "left", "baseline": "alphabetic", "color": "#000000"},
           "encoding": {"text": {"field": "t"}}}
        ]
      }
    ],
    "spacing": 0, "bounds": "flush"
  },
  {
    "hconcat": [
      {
        "width": 554, "height": 528,
        "data": {"name": "notes"},
        "transform": [{"filter": "datum.panel === 'L3'"}],
        "mark": {"type": "text", "font": "Liberation Serif", "fontWeight": "bold", "fontSize": 100, "align": "left", "baseline": "alphabetic", "color": "#000000"},
        "encoding": {
          "x": {"field": "x", "type": "quantitative", "scale": {"domain": [0, 554], "nice": false, "zero": false}, "axis": null},
          "y": {"field": "y", "type": "quantitative", "scale": {"domain": [1390, 1918], "reverse": true, "nice": false, "zero": false}, "axis": null},
          "text": {"field": "t"}
        }
      },
      {
        "width": 714, "height": 464,
        "view": {"stroke": "#000000", "strokeWidth": 2},
        "encoding": {
          "x": {"field": "x", "type": "quantitative", "title": "x", "scale": {"domain": [-0.2, 5.23], "nice": false, "zero": false}, "axis": {"values": [0, 2, 4]}}
        },
        "layer": [
          {"data": {"name": "curve"}, "transform": [{"filter": "datum.x >= 0.04 && datum.x <= 4.99"}], "mark": {"type": "area", "color": "#f0dccb", "opacity": 1, "interpolate": "monotone"},
           "encoding": {"y": {"field": "lo", "type": "quantitative", "title": "y", "scale": {"domain": [-5.19, 4.67], "nice": false, "zero": false}, "axis": {"values": [-4, -2, 0, 2, 4]}}, "y2": {"field": "hi"}}},
          {"data": {"name": "curve"}, "transform": [{"filter": "datum.x >= 0.04 && datum.x <= 4.99"}], "mark": {"type": "line", "color": "#009e73", "strokeWidth": 4, "strokeDash": [12, 5.5], "interpolate": "monotone"},
           "encoding": {"y": {"field": "upper", "type": "quantitative", "title": "y", "scale": {"domain": [-5.19, 4.67], "nice": false, "zero": false}, "axis": {"values": [-4, -2, 0, 2, 4]}}}},
          {"data": {"name": "curve"}, "transform": [{"filter": "datum.x >= 0.04 && datum.x <= 4.99"}], "mark": {"type": "line", "color": "#009e73", "strokeWidth": 4, "strokeDash": [12, 5.5], "interpolate": "monotone"},
           "encoding": {"y": {"field": "lower", "type": "quantitative", "title": "y", "scale": {"domain": [-5.19, 4.67], "nice": false, "zero": false}, "axis": {"values": [-4, -2, 0, 2, 4]}}}},
          {"data": {"name": "test"}, "mark": {"type": "circle", "color": "#cc79a7", "size": 64, "opacity": 1},
           "encoding": {"y": {"field": "y", "type": "quantitative", "title": "y", "scale": {"domain": [-5.19, 4.67], "nice": false, "zero": false}, "axis": {"values": [-4, -2, 0, 2, 4]}}}}
        ]
      },
      {
        "width": 1872, "height": 528,
        "data": {"name": "notes"},
        "transform": [{"filter": "datum.panel === 'T3'"}],
        "encoding": {
          "x": {"field": "x", "type": "quantitative", "scale": {"domain": [1268, 3140], "nice": false, "zero": false}, "axis": null},
          "y": {"field": "y", "type": "quantitative", "scale": {"domain": [1390, 1918], "reverse": true, "nice": false, "zero": false}, "axis": null}
        },
        "layer": [
          {"transform": [{"filter": "datum.kind === 'bullet'"}], "mark": {"type": "point", "shape": "M-1,-1L1,0L-1,1Z", "filled": true, "color": "#000000", "size": 3025, "opacity": 1}},
          {"transform": [{"filter": "datum.kind === 'main'"}], "mark": {"type": "text", "font": "Liberation Serif", "fontSize": 94, "align": "left", "baseline": "alphabetic"},
           "encoding": {"text": {"field": "t"}, "color": {"field": "ink", "type": "nominal", "scale": {"domain": ["text", "quantile", "score", "interval"], "range": ["#000000", "#1b8c68", "#f9b3e3", "#cd9467"]}, "legend": null}}},
          {"transform": [{"filter": "datum.kind === 'var'"}], "mark": {"type": "text", "font": "Liberation Serif", "fontStyle": "italic", "fontSize": 94, "align": "left", "baseline": "alphabetic"},
           "encoding": {"text": {"field": "t"}, "color": {"field": "ink", "type": "nominal", "scale": {"domain": ["text", "quantile", "score", "interval"], "range": ["#000000", "#1b8c68", "#f9b3e3", "#cd9467"]}, "legend": null}}},
          {"transform": [{"filter": "datum.kind === 'index'"}], "mark": {"type": "text", "font": "Liberation Serif", "fontSize": 66, "align": "left", "baseline": "alphabetic"},
           "encoding": {"text": {"field": "t"}, "color": {"field": "ink", "type": "nominal", "scale": {"domain": ["text", "quantile", "score", "interval"], "range": ["#000000", "#1b8c68", "#f9b3e3", "#cd9467"]}, "legend": null}}},
          {"transform": [{"filter": "datum.kind === 'hatvar'"}], "mark": {"type": "text", "font": "DejaVu Serif", "fontStyle": "italic", "fontSize": 58, "align": "left", "baseline": "alphabetic"},
           "encoding": {"text": {"field": "t"}, "color": {"field": "ink", "type": "nominal", "scale": {"domain": ["text", "quantile", "score", "interval"], "range": ["#000000", "#1b8c68", "#f9b3e3", "#cd9467"]}, "legend": null}}},
          {"transform": [{"filter": "datum.kind === 'delim'"}], "mark": {"type": "text", "font": "Liberation Serif", "fontSize": 104, "align": "left", "baseline": "alphabetic"},
           "encoding": {"text": {"field": "t"}, "color": {"field": "ink", "type": "nominal", "scale": {"domain": ["text", "quantile", "score", "interval"], "range": ["#000000", "#1b8c68", "#f9b3e3", "#cd9467"]}, "legend": null}}}
        ]
      }
    ],
    "spacing": 0, "bounds": "flush"
  }
]
}
